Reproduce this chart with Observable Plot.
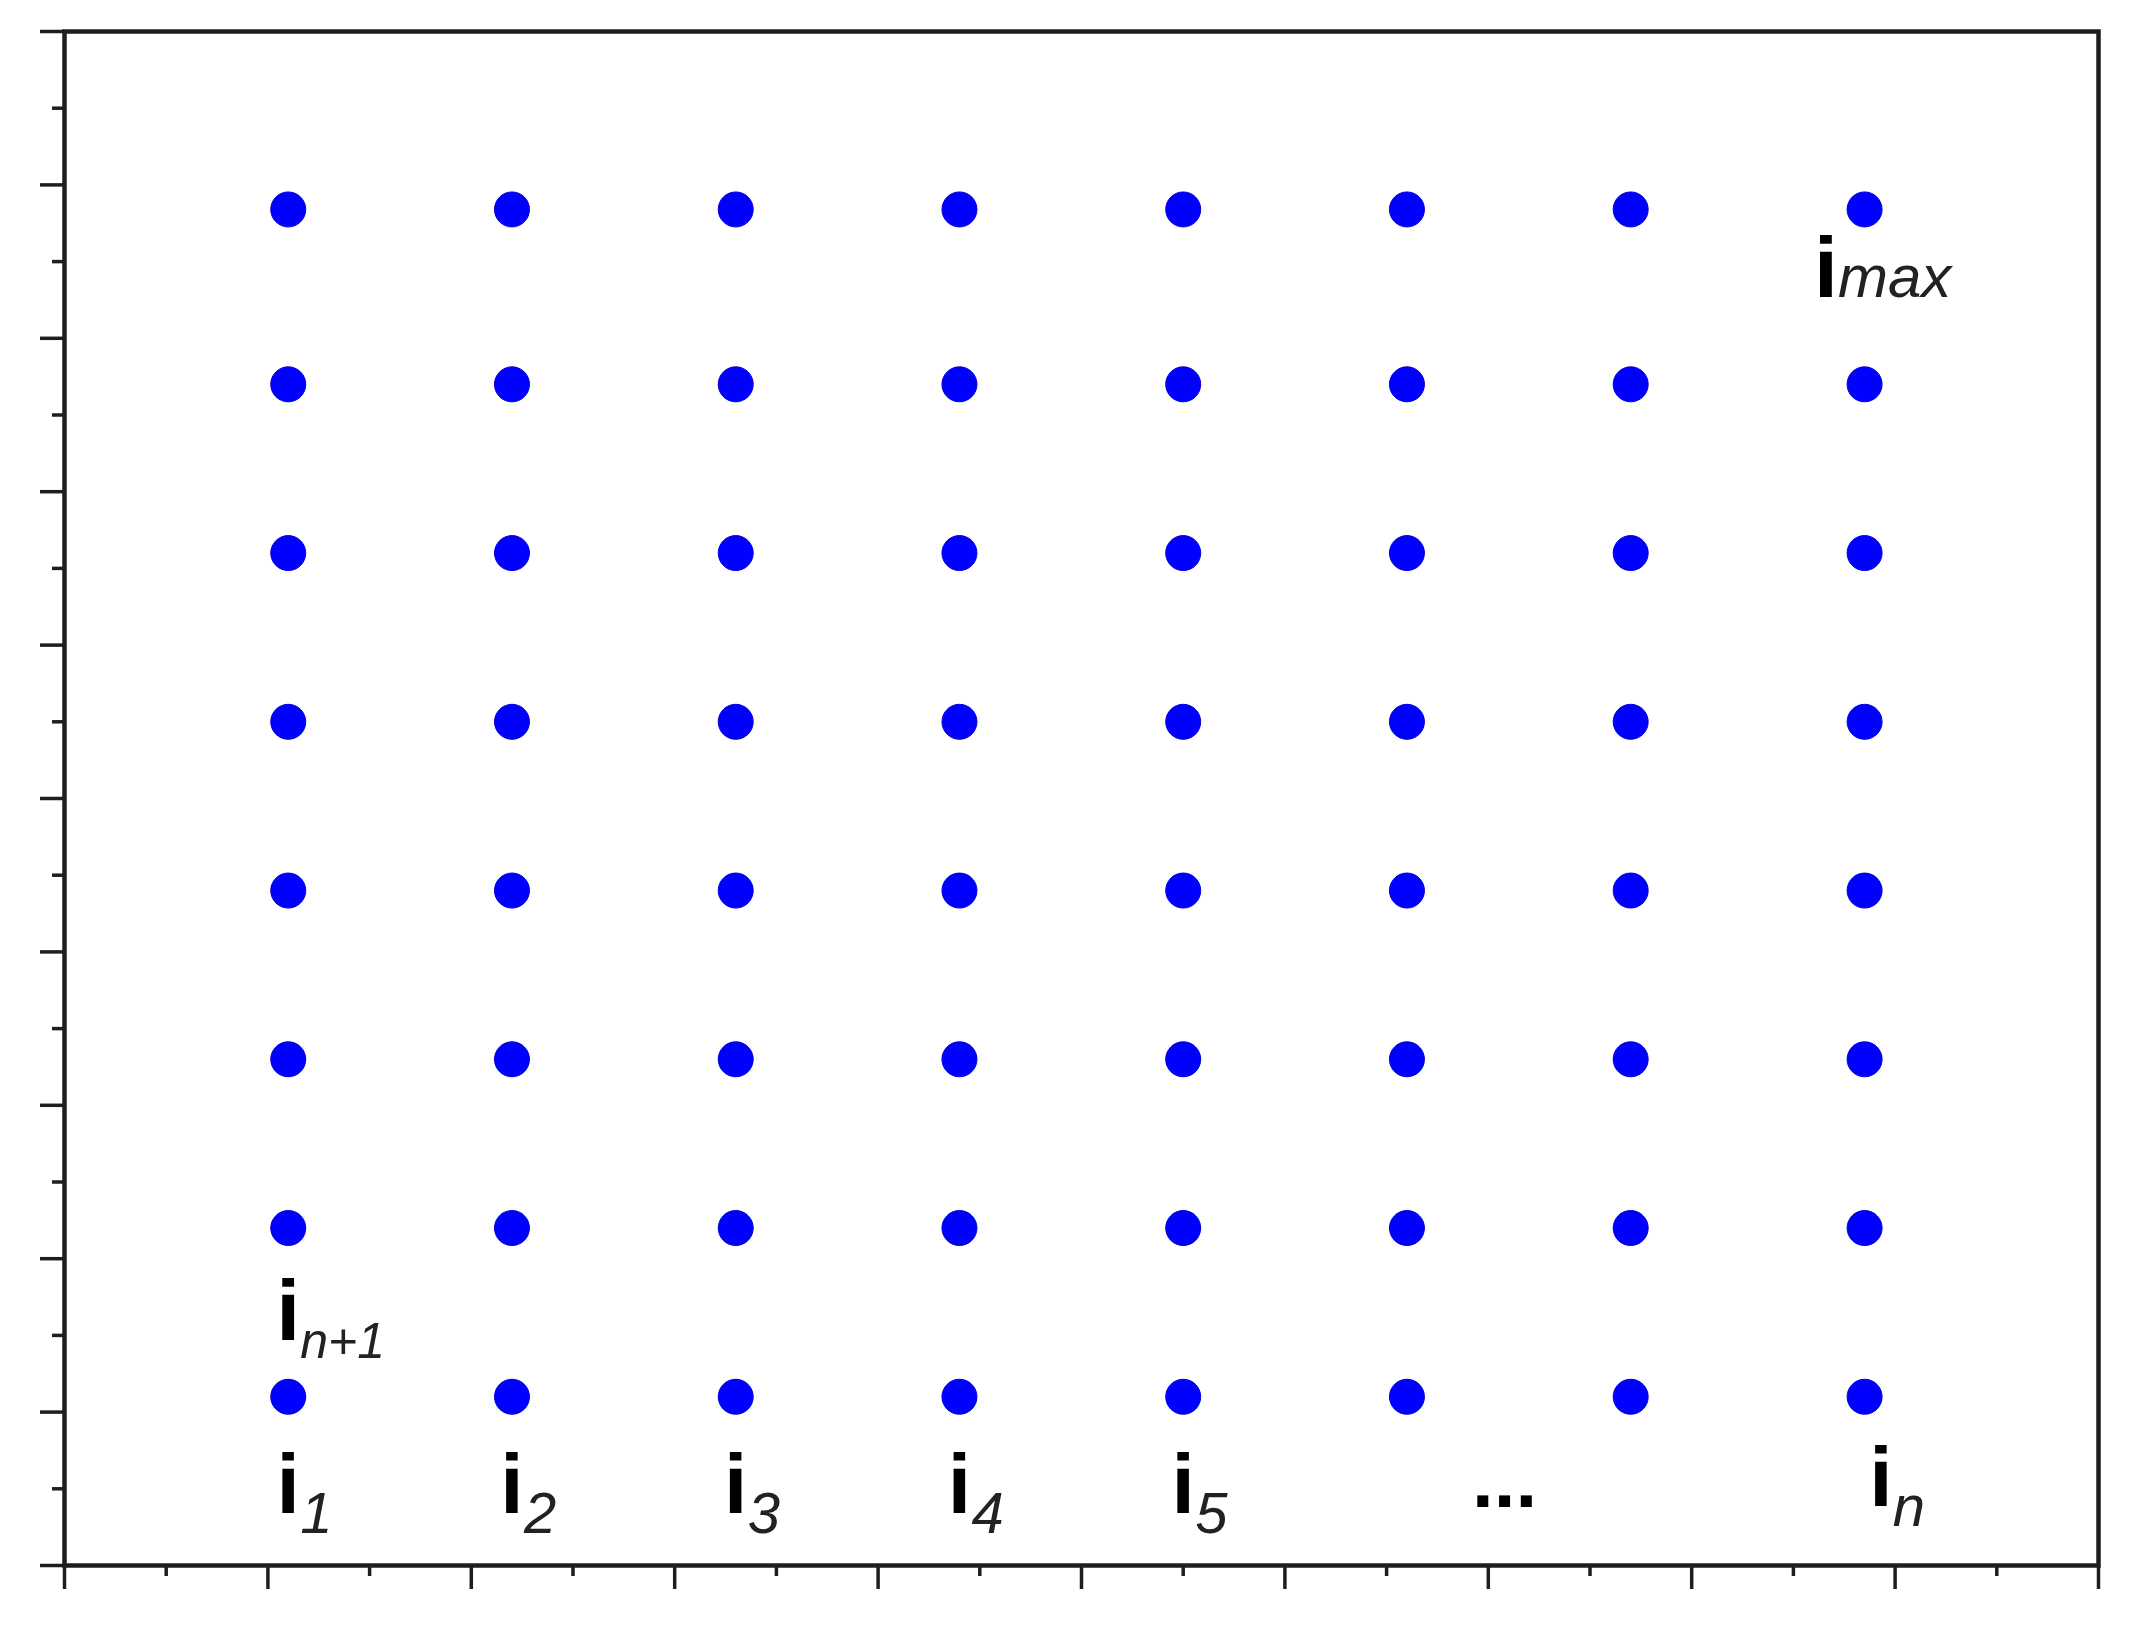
<!DOCTYPE html>
<html>
<head>
<meta charset="utf-8">
<script src="https://cdn.jsdelivr.net/npm/d3@7"></script>
<script src="https://cdn.jsdelivr.net/npm/@observablehq/plot@0.6"></script>
<style>
  html, body { margin: 0; padding: 0; background: white; overflow: hidden; }
</style>
</head>
<body>
<div id="chart"></div>
<script>
// Grid of points (data units, both axes 0..10)
const colValues = [1.1, 2.2, 3.3, 4.4, 5.5, 6.6, 7.7, 8.85];
const rowValues = [1.1, 2.2, 3.3, 4.4, 5.5, 6.6, 7.7, 8.84];

// Axis ticks
const majorTicks = [0, 1, 2, 3, 4, 5, 6, 7, 8, 9, 10];
const minorTicks = [0.5, 1.5, 2.5, 3.5, 4.5, 5.5, 6.5, 7.5, 8.5, 9.5];

// Annotation labels (data units)
const bottomLabelX = [1.1, 2.2, 3.3, 4.4, 5.5, 8.93];
const bottomLabelSub = ["1", "2", "3", "4", "5", "n"];
const bottomLabelY = [0.34, 0.34, 0.34, 0.34, 0.34, 0.39];
const ellipsisLabel = [{x: 7.08, y: 0.38, text: "..."}];
const upperLabels = [
  {x: 1.1, y: 1.47, sub: "n+1"},
  {x: 8.66, y: 8.27, sub: "max"}
];

const grid = rowValues.flatMap(y => colValues.map(x => ({x, y})));
const bottomLabels = bottomLabelX.map((x, i) => ({x, y: bottomLabelY[i], sub: bottomLabelSub[i]}));

const font = "'Liberation Sans', Arial, sans-serif";
const ink = "#1e1e1e";

const chart = Plot.plot({
  width: 2139,
  height: 1635,
  marginLeft: 64,
  marginRight: 41,
  marginTop: 31,
  marginBottom: 70,
  x: {domain: [0, 10]},
  y: {domain: [0, 10]},
  style: {background: "white", fontFamily: font},
  marks: [
    Plot.axisX({ticks: majorTicks, tickSize: 24, stroke: ink, strokeWidth: 3.5, fill: "none", label: null}),
    Plot.axisX({ticks: minorTicks, tickSize: 11, stroke: ink, strokeWidth: 3.5, fill: "none", label: null}),
    Plot.axisY({ticks: majorTicks, tickSize: 24, stroke: ink, strokeWidth: 3.5, fill: "none", label: null}),
    Plot.axisY({ticks: minorTicks, tickSize: 12, stroke: ink, strokeWidth: 3.5, fill: "none", label: null}),
    Plot.frame({stroke: ink, strokeWidth: 4.5}),
    Plot.dot(grid, {x: "x", y: "y", r: 17.5, fill: "#0000ff", stroke: "#0000e0", strokeWidth: 1}),
    // bottom labels: bold "i" with italic subscripts
    Plot.text(bottomLabels, {x: "x", y: "y", text: () => "i", fontSize: 84, fontWeight: "bold",
      textAnchor: "middle", lineAnchor: "bottom", fill: "black"}),
    Plot.text(bottomLabels, {x: "x", y: "y", text: "sub", fontSize: 58, fontStyle: "italic",
      textAnchor: "start", lineAnchor: "bottom", dx: 12, dy: 20, fill: "#222"}),
    Plot.text(ellipsisLabel, {x: "x", y: "y", text: "text", fontSize: 78, fontWeight: "bold",
      textAnchor: "middle", lineAnchor: "bottom", fill: "black"}),
    // i_{n+1} and i_max
    Plot.text(upperLabels, {x: "x", y: "y", text: () => "i", fontSize: 86, fontWeight: "bold",
      textAnchor: "middle", lineAnchor: "bottom", fill: "black"}),
    Plot.text([upperLabels[0]], {x: "x", y: "y", text: "sub", fontSize: 50, fontStyle: "italic",
      textAnchor: "start", lineAnchor: "bottom", dx: 12, dy: 18, fill: "#222"}),
    Plot.text([upperLabels[1]], {x: "x", y: "y", text: "sub", fontSize: 60, fontStyle: "italic",
      textAnchor: "start", lineAnchor: "bottom", dx: 12, dy: 0, fill: "#222"})
  ]
});

document.getElementById("chart").appendChild(chart);
</script>
</body>
</html>
